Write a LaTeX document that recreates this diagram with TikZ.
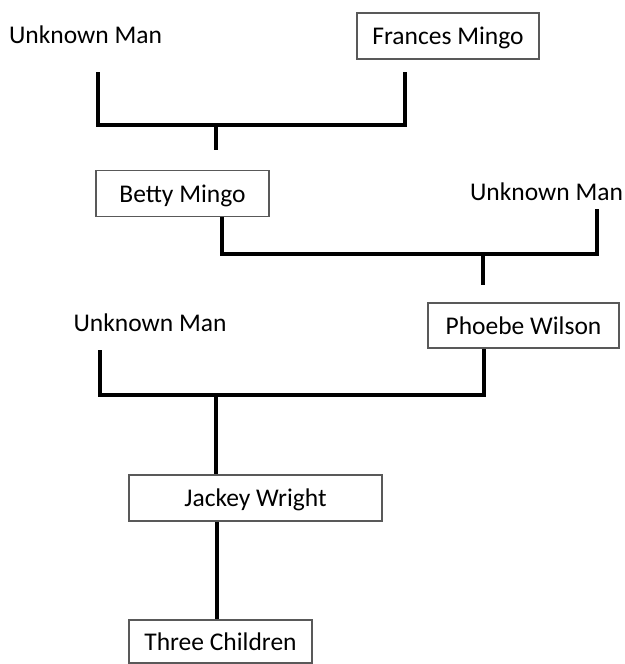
\documentclass[tikz,border=0pt]{standalone}
\usepackage{fontspec}
\setmainfont{Carlito}
\begin{document}
\begin{tikzpicture}[x=.5pt, y=-.5pt, font=\fontsize{12.75}{15}\selectfont, line join=miter,
	person/.style={draw=black!65, line width=.7pt, inner sep=0pt, text height=1em, text depth=.12em},
	unknown/.style={inner sep=0pt, text height=1em, text depth=.12em},
	link/.style={line width=1.75pt}]
	\useasboundingbox (0,0) rectangle (625,664);
	
	\node[unknown] (um1) at (85.5,35) {Unknown Man};
	\node[person, minimum width=91pt, minimum height=23pt] (fm) at (448,36) {Frances Mingo};
	\node[person, minimum width=86.5pt, minimum height=23pt] (bm) at (182.5,193.5) {Betty Mingo};
	\node[unknown] (um2) at (546.5,191.5) {Unknown Man};
	\node[unknown] (um3) at (150,323) {Unknown Man};
	\node[person, minimum width=95.5pt, minimum height=22.5pt] (pw) at (523.5,325.5) {Phoebe Wilson};
	\node[person, minimum width=126.5pt, minimum height=23pt] (jw) at (255.5,498) {Jackey Wright};
	\node[person, minimum width=91.5pt, minimum height=21.5pt] (tc) at (220.5,641.5) {Three Children};
	
	\coordinate (um1f) at (98,72); \coordinate (fmf) at (405,72);
	\coordinate (j1) at (216,125); \coordinate (bmt) at (216,150);
	\draw[link] (um1f) |- (j1) -| (fmf);
	\draw[link] (j1) -- (bmt);
	
	\coordinate (um2f) at (597,209);
	\coordinate (j2) at (483,254); \coordinate (pwt) at (483,285);
	\draw[link] ([xshift=19.75pt]bm.south) |- (j2) -| (um2f);
	\draw[link] (j2) -- (pwt);
	
	\coordinate (um3f) at (100,350); \coordinate (j3) at (216,395);
	\draw[link] (um3f) |- (j3) -| ([xshift=-19.75pt]pw.south);
	\draw[link] (j3) -- ([xshift=-19.75pt]jw.north);
	\draw[link] ([xshift=-19.25pt]jw.south) -- ([xshift=-1.75pt]tc.north);
\end{tikzpicture}
\end{document}
